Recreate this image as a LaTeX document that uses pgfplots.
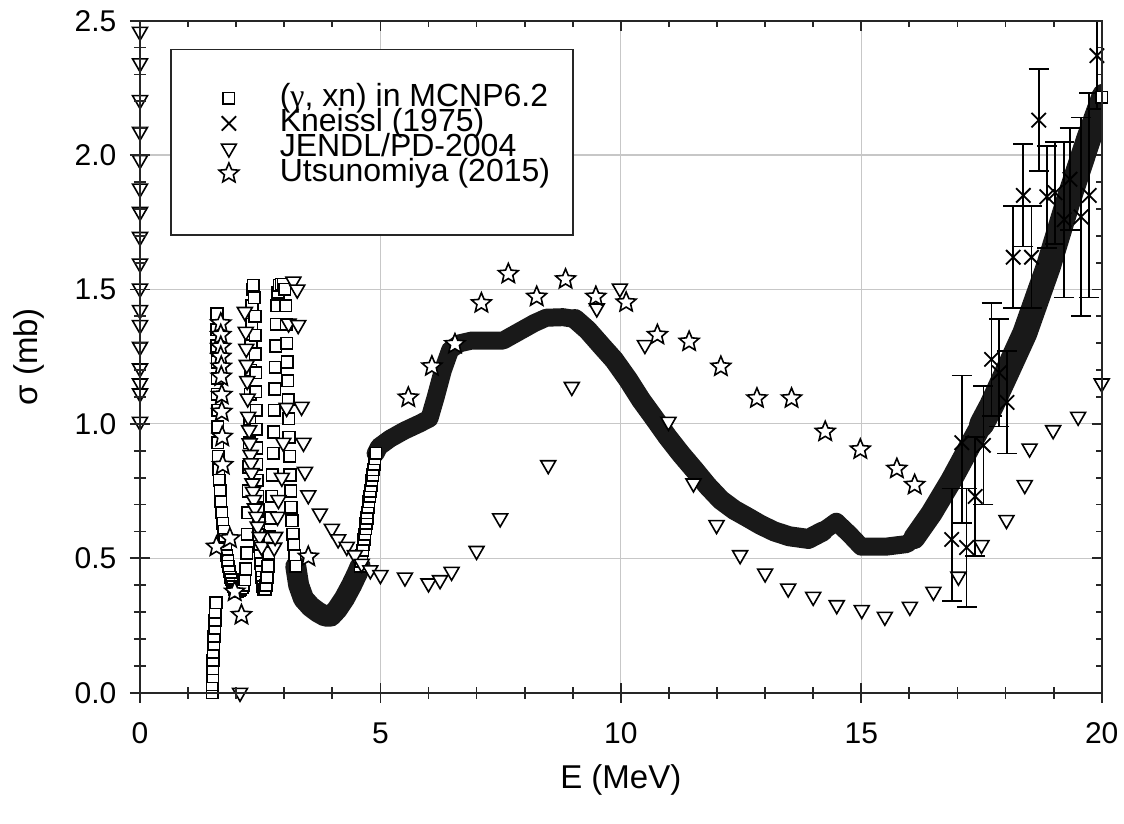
\documentclass[border=0pt]{standalone}
\usepackage{fontspec}
\setmainfont{Liberation Sans}
\newfontfamily\serifgreek{Liberation Serif}
\usepackage{pgfplots}
\pgfplotsset{compat=1.18}

\pgfdeclareplotmark{osq}{%
  \pgfpathrectangle{\pgfqpoint{-\pgfplotmarksize}{-\pgfplotmarksize}}{\pgfqpoint{2\pgfplotmarksize}{2\pgfplotmarksize}}%
  \pgfusepathqfillstroke}
\pgfdeclareplotmark{dtri}{%
  \pgfpathmoveto{\pgfpointpolar{270}{\pgfplotmarksize}}%
  \pgfpathlineto{\pgfpointpolar{30}{\pgfplotmarksize}}%
  \pgfpathlineto{\pgfpointpolar{150}{\pgfplotmarksize}}%
  \pgfpathclose\pgfusepathqfillstroke}
\pgfdeclareplotmark{ostar}{%
  \pgfpathmoveto{\pgfpointpolar{90}{\pgfplotmarksize}}%
  \pgfpathlineto{\pgfpointpolar{126}{0.45\pgfplotmarksize}}%
  \pgfpathlineto{\pgfpointpolar{162}{\pgfplotmarksize}}%
  \pgfpathlineto{\pgfpointpolar{198}{0.45\pgfplotmarksize}}%
  \pgfpathlineto{\pgfpointpolar{234}{\pgfplotmarksize}}%
  \pgfpathlineto{\pgfpointpolar{270}{0.45\pgfplotmarksize}}%
  \pgfpathlineto{\pgfpointpolar{306}{\pgfplotmarksize}}%
  \pgfpathlineto{\pgfpointpolar{342}{0.45\pgfplotmarksize}}%
  \pgfpathlineto{\pgfpointpolar{18}{\pgfplotmarksize}}%
  \pgfpathlineto{\pgfpointpolar{54}{0.45\pgfplotmarksize}}%
  \pgfpathclose\pgfusepathqfillstroke}
\pgfdeclareplotmark{xx}{%
  \pgfpathmoveto{\pgfqpoint{-\pgfplotmarksize}{-\pgfplotmarksize}}%
  \pgfpathlineto{\pgfqpoint{\pgfplotmarksize}{\pgfplotmarksize}}%
  \pgfpathmoveto{\pgfqpoint{-\pgfplotmarksize}{\pgfplotmarksize}}%
  \pgfpathlineto{\pgfqpoint{\pgfplotmarksize}{-\pgfplotmarksize}}%
  \pgfusepathqstroke}

\pgfplotsset{
  myleg/.style={legend image code/.code={\draw[##1] plot coordinates {(0pt,0pt)};}},
  band/.style={forget plot, no markers, black!90, line join=round, line cap=round},
}

\begin{document}
\begin{tikzpicture}
\begin{axis}[
  scale only axis, width=480.85pt, height=336pt,
  xmin=0, xmax=20, ymin=0, ymax=2.5,
  xtick={0,5,10,15,20}, ytick={0,0.5,1,1.5,2,2.5},
  minor x tick num=4, minor y tick num=4,
  xtick pos=right, ytick pos=right, xticklabel pos=left, yticklabel pos=left,
  tick align=inside, major tick length=5pt, minor tick length=3pt,
  every tick/.style={black!85, line width=0.9pt},
  axis line style={black!85, line width=0.9pt},
  grid=major, major grid style={black!22, line width=0.6pt},
  tick label style={font=\fontsize{15}{18}\selectfont},
  /pgf/number format/assume math mode=true,
  xticklabel style={anchor=north, yshift=-11.5pt},
  yticklabel style={anchor=east, xshift=-8.3pt, /pgf/number format/.cd, fixed, fixed zerofill, precision=1},
  xlabel={E (MeV)}, ylabel={σ (mb)},
  label style={font=\fontsize{16.5}{20}\selectfont},
  xlabel style={at={(axis description cs:0.5,-0.1298)}, anchor=center},
  ylabel style={at={(axis description cs:-0.1159,0.5)}, anchor=center},
  legend style={draw=none, fill=none, at={(rel axis cs:0.0755,0.9095)}, anchor=north west,
    font=\fontsize{16}{19}\selectfont, row sep=0pt,
    nodes={inner sep=0pt, text height=10.5pt, text depth=2.0pt},
    /tikz/every odd column/.append style={column sep=20.5pt}},
  legend cell align=left,
]
% MCNP6.2 squares (low energy peaks and steep rise)
\addplot[only marks, mark=osq, mark size=2.9pt, mark options={draw=black, fill=white, line width=0.8pt}, myleg] coordinates {
(1.50,0.00)(1.505,0.03)(1.51,0.06)(1.515,0.09)(1.52,0.12)(1.525,0.15)(1.53,0.18)(1.54,0.21)(1.55,0.24)(1.56,0.27)(1.57,0.30)(1.58,0.335)
(1.60,1.41)(1.60,1.35)(1.60,1.29)(1.605,1.23)(1.61,1.17)(1.61,1.11)(1.615,1.05)(1.62,0.99)(1.62,0.93)(1.63,0.88)(1.64,0.83)(1.65,0.79)(1.67,0.75)(1.68,0.71)(1.70,0.67)(1.72,0.63)(1.74,0.60)(1.76,0.57)(1.78,0.54)(1.80,0.51)(1.82,0.49)(1.84,0.47)(1.86,0.45)(1.88,0.43)(1.90,0.42)(1.92,0.405)(1.94,0.395)(1.96,0.385)(1.98,0.38)(2.00,0.375)(2.02,0.375)(2.04,0.38)
(2.06,0.38)(2.09,0.385)(2.12,0.39)(2.15,0.40)(2.18,0.42)
(2.20,0.46)(2.215,0.52)(2.23,0.59)(2.24,0.67)(2.25,0.75)(2.26,0.84)(2.27,0.93)(2.28,1.02)(2.29,1.11)(2.30,1.20)(2.31,1.29)(2.32,1.37)(2.33,1.44)(2.35,1.50)(2.36,1.515)
(2.38,1.47)(2.39,1.40)(2.395,1.33)(2.40,1.26)(2.405,1.19)(2.41,1.12)(2.415,1.05)(2.42,0.98)(2.425,0.91)(2.43,0.85)(2.44,0.79)(2.45,0.73)(2.46,0.68)(2.47,0.63)(2.48,0.585)(2.49,0.545)(2.50,0.51)(2.51,0.48)(2.52,0.45)(2.53,0.43)(2.545,0.41)(2.56,0.395)(2.58,0.385)(2.60,0.385)
(2.62,0.40)(2.64,0.43)(2.66,0.47)(2.68,0.52)(2.70,0.58)(2.72,0.65)(2.74,0.73)(2.755,0.81)(2.77,0.89)(2.78,0.97)(2.79,1.05)(2.80,1.13)(2.81,1.21)(2.82,1.29)(2.835,1.37)(2.85,1.44)(2.87,1.49)(2.90,1.515)(2.94,1.52)(2.98,1.52)
(3.01,1.50)(3.03,1.44)(3.04,1.37)(3.05,1.30)(3.06,1.23)(3.07,1.16)(3.08,1.09)(3.09,1.02)(3.10,0.95)(3.11,0.88)(3.12,0.81)(3.13,0.75)(3.14,0.69)(3.16,0.64)(3.18,0.59)(3.20,0.55)(3.22,0.51)(3.24,0.47)
(4.58,0.47)(4.60,0.49)(4.61,0.51)(4.63,0.53)(4.64,0.55)(4.66,0.57)(4.67,0.59)(4.69,0.61)(4.70,0.63)(4.72,0.65)(4.73,0.67)(4.75,0.69)(4.76,0.71)(4.78,0.73)(4.79,0.75)(4.81,0.77)(4.82,0.79)(4.84,0.81)(4.85,0.83)(4.87,0.85)(4.88,0.87)(4.90,0.89)
};
% MCNP6.2 dense band
\addplot[band, line width=10.5pt] coordinates {
(3.24,0.47)(3.30,0.40)(3.40,0.35)(3.55,0.32)(3.70,0.30)(3.85,0.285)(3.97,0.285)(4.10,0.31)(4.25,0.35)(4.40,0.40)(4.52,0.445)(4.58,0.47)
};
\addplot[band, line width=9pt] coordinates {
(4.90,0.89)(4.97,0.915)(5.20,0.945)(5.50,0.975)(5.80,1.00)(6.02,1.02)(6.15,1.10)(6.30,1.20)(6.45,1.275)(6.65,1.30)(6.90,1.31)(7.20,1.31)(7.55,1.31)(7.90,1.345)(8.20,1.375)(8.45,1.395)(8.80,1.397)(9.05,1.39)
};
\addplot[band, line width=10pt] coordinates {
(9.05,1.39)(9.31,1.349)(9.60,1.29)(9.86,1.238)(10.15,1.165)(10.42,1.089)(10.70,1.02)(10.97,0.952)(11.25,0.888)(11.53,0.829)(11.80,0.77)(12.08,0.717)(12.36,0.68)(12.64,0.652)(12.90,0.625)(13.19,0.600)(13.50,0.582)(13.90,0.572)(14.20,0.60)
};
\addplot[band, line width=9pt] coordinates {
(14.20,0.60)(14.48,0.636)(14.75,0.59)(15.00,0.543)(15.50,0.543)(15.95,0.553)(16.10,0.575)
};
\addplot[band, line width=11pt] coordinates {
(16.10,0.575)(16.46,0.667)(16.875,0.791)(17.29,0.928)(17.50,0.997)
};
\addplot[band, line width=12.5pt] coordinates {
(17.50,0.997)(17.71,1.068)(18.05,1.20)(18.40,1.337)(18.89,1.585)(19.31,1.833)(19.72,2.056)(20.05,2.22)
};
\addplot[forget plot, only marks, mark=osq, mark size=2.9pt, mark options={draw=black, fill=white, line width=0.8pt}] coordinates {(20.0,2.215)};
% Kneissl (1975)
\addplot[only marks, mark=xx, mark size=3.6pt, mark options={black, line width=0.9pt}, myleg,
  error bars/.cd, y dir=both, y explicit, error bar style={black, line width=0.9pt},
  error mark options={rotate=90, black, mark size=5pt, line width=0.9pt}]
  table[x=x, y=y, y error plus=ep, y error minus=em] {
x y ep em
16.88 0.57 0.19 0.23
17.09 0.93 0.25 0.30
17.19 0.54 0.22 0.22
17.37 0.73 0.22 0.22
17.54 0.92 0.22 0.22
17.71 1.24 0.21 0.21
17.87 1.19 0.20 0.20
18.03 1.08 0.19 0.19
18.16 1.62 0.19 0.19
18.37 1.85 0.19 0.19
18.54 1.62 0.19 0.19
18.69 2.13 0.19 0.19
18.86 1.845 0.19 0.19
19.03 1.86 0.19 0.19
19.22 1.76 0.29 0.29
19.34 1.91 0.19 0.19
19.57 1.77 0.37 0.37
19.74 1.85 0.38 0.38
19.90 2.37 0.20 0.20
};
% JENDL/PD-2004
\addplot[only marks, mark=dtri, mark size=4.3pt, mark options={draw=black, fill=white, line width=0.8pt}, myleg] coordinates {
(0,2.459)(0,2.342)(0,2.205)(0,2.087)(0,1.982)(0,1.876)(0,1.789)(0,1.696)(0,1.597)(0,1.504)(0,1.424)(0,1.368)(0,1.287)(0,1.207)(0,1.151)(0,1.114)(0,1.008)
(2.08,0.0)
(2.18,1.417)(2.20,1.343)(2.21,1.28)(2.22,1.22)(2.23,1.16)(2.24,1.095)(2.25,1.027)(2.27,0.977)(2.28,0.928)(2.30,0.885)(2.31,0.854)(2.32,0.817)(2.34,0.779)(2.35,0.748)(2.37,0.717)(2.39,0.686)(2.42,0.655)(2.45,0.618)(2.49,0.58)(2.53,0.543)
(2.79,0.54)(2.81,0.58)(2.86,0.655)(2.88,0.717)(2.95,0.80)(2.98,0.93)(3.05,1.06)(3.09,1.374)(3.19,1.53)
(3.27,1.50)(3.29,1.368)(3.36,1.064)(3.40,0.93)(3.43,0.822)(3.50,0.735)(3.74,0.667)(3.99,0.61)(4.12,0.571)(4.30,0.543)(4.47,0.512)(4.61,0.48)(4.79,0.456)(5.00,0.438)
(5.51,0.429)(6.00,0.407)(6.24,0.419)(6.48,0.45)(7.00,0.528)(7.49,0.649)(8.49,0.847)(8.98,1.138)(9.50,1.43)(9.98,1.504)(10.50,1.294)(10.99,1.008)(11.51,0.779)(11.99,0.624)(12.48,0.512)(13.00,0.444)(13.48,0.388)(14.00,0.357)(14.49,0.326)(15.01,0.308)(15.49,0.283)(16.01,0.32)(16.50,0.376)(17.02,0.432)(17.50,0.55)(18.02,0.643)(18.40,0.773)(18.50,0.909)(18.99,0.977)(19.51,1.027)(20.00,1.151)
};
% Utsunomiya (2015)
\addplot[only marks, mark=ostar, mark size=5.2pt, mark options={draw=black, fill=white, line width=0.8pt}, myleg] coordinates {
(1.68,1.374)(1.68,1.331)(1.68,1.287)(1.68,1.25)(1.69,1.213)(1.69,1.176)(1.70,1.108)(1.70,1.045)(1.71,0.952)(1.72,0.847)(1.59,0.543)(1.87,0.574)(1.97,0.376)(2.11,0.289)(3.50,0.506)
(5.58,1.098)(6.07,1.214)(6.55,1.297)(7.10,1.449)(7.66,1.558)(8.25,1.473)(8.85,1.538)(9.48,1.473)(10.11,1.452)(10.76,1.331)(11.42,1.306)(12.08,1.213)(12.83,1.095)(13.55,1.095)(14.25,0.971)(14.98,0.905)(15.74,0.833)(16.11,0.773)
};
\draw[draw=black!85, fill=white, line width=0.9pt] (rel axis cs:0.0322,0.957) rectangle (rel axis cs:0.450,0.681);
\legend{({\serifgreek γ}, xn) in MCNP6.2, Kneissl (1975), JENDL/PD-2004, Utsunomiya (2015)}
\end{axis}
\begin{axis}[
  scale only axis, width=480.85pt, height=336pt,
  xmin=0, xmax=20, ymin=0, ymax=2.5,
  xtick={0,5,10,15,20}, ytick={0,0.5,1,1.5,2,2.5},
  minor x tick num=4, minor y tick num=4,
  xtick pos=left, ytick pos=left, tick align=center,
  major tick length=10pt, minor tick length=6pt,
  xticklabels={}, yticklabels={},
  every tick/.style={black!85, line width=0.9pt},
  axis line style={black!85, line width=0.9pt},
]
\end{axis}
\pgfresetboundingbox
\path[use as bounding box] (-70pt,-65.65pt) rectangle (492pt,346.35pt);
\end{tikzpicture}
\end{document}
